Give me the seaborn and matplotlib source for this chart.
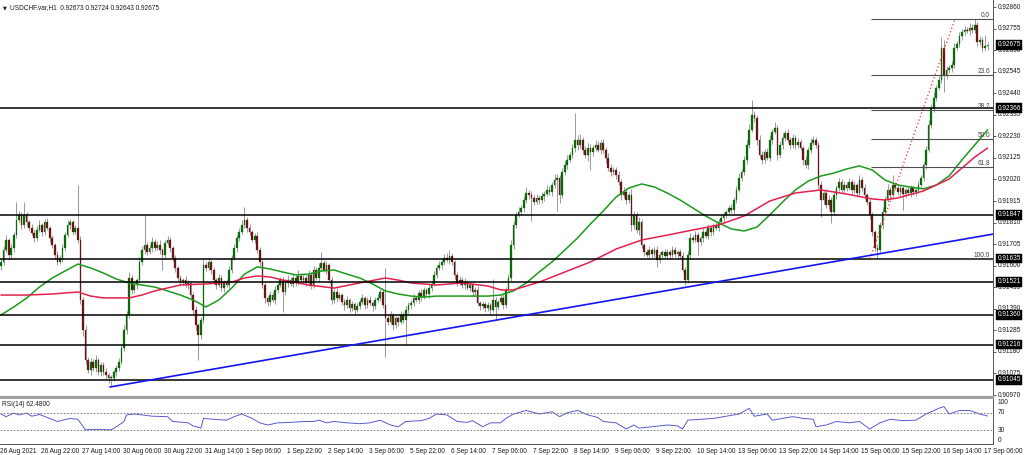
import matplotlib
matplotlib.use("Agg")
import matplotlib.pyplot as plt
import matplotlib.transforms as mtrans
import numpy as np
import pandas as pd
import seaborn as sns

# ---------------- data (prices in points of 0.00001 above 0.90000) ----------------
BASE = 0.90000
PT = 0.00001

first_open = 1600
closes = [
    1618, 1676, 1725, 1652, 1686, 1749, 1822, 1847, 1798, 1847,
    1813, 1784, 1759, 1735, 1774, 1798, 1764, 1813, 1784, 1735,
    1701, 1652, 1618, 1637, 1686, 1749, 1798, 1813, 1764, 1784,
    1725, 1433, 1287, 1141, 1092, 1131, 1102, 1141, 1082, 1116,
    1082, 1067, 1053, 1053, 1082, 1102, 1131, 1199, 1287, 1360,
    1540, 1482, 1506, 1530, 1618, 1676, 1701, 1667, 1686, 1715,
    1686, 1701, 1676, 1652, 1710, 1725, 1686, 1637, 1589, 1540,
    1521, 1530, 1506, 1516, 1457, 1384, 1311, 1262, 1335, 1603,
    1589, 1618, 1579, 1530, 1506, 1540, 1491, 1521, 1506, 1579,
    1637, 1686, 1735, 1764, 1798, 1822, 1784, 1764, 1725, 1744,
    1676, 1618, 1506, 1443, 1423, 1457, 1433, 1482, 1506, 1530,
    1472, 1516, 1530, 1511, 1540, 1521, 1550, 1530, 1540, 1516,
    1555, 1506, 1579, 1540, 1589, 1613, 1579, 1603, 1530, 1433,
    1472, 1443, 1457, 1423, 1408, 1433, 1394, 1413, 1384, 1404,
    1423, 1443, 1408, 1433, 1418, 1404, 1433, 1443, 1472, 1408,
    1345, 1326, 1360, 1311, 1345, 1326, 1360, 1335, 1384, 1408,
    1418, 1443, 1433, 1467, 1447, 1482, 1462, 1491, 1511, 1555,
    1589, 1603, 1618, 1637, 1628, 1647, 1618, 1555, 1516, 1530,
    1506, 1521, 1491, 1506, 1472, 1482, 1418, 1404, 1413, 1394,
    1408, 1384, 1433, 1399, 1423, 1443, 1408, 1482, 1540, 1701,
    1798, 1847, 1861, 1881, 1920, 1954, 1944, 1930, 1910, 1930,
    1920, 1939, 1949, 1969, 1959, 1993, 2017, 2027, 1944, 2056,
    2090, 2115, 2139, 2173, 2212, 2188, 2212, 2163, 2139, 2173,
    2154, 2173, 2188, 2163, 2197, 2163, 2124, 2076, 2056, 2066,
    2042, 2008, 1944, 1959, 1920, 1944, 1798, 1847, 1774, 1813,
    1701, 1667, 1652, 1676, 1657, 1676, 1628, 1652, 1667, 1647,
    1667, 1652, 1676, 1657, 1667, 1647, 1579, 1530, 1652, 1735,
    1725, 1749, 1715, 1735, 1764, 1744, 1784, 1764, 1798, 1784,
    1813, 1832, 1847, 1861, 1881, 1871, 1920, 1969, 2027, 2056,
    2115, 2188, 2261, 2334, 2319, 2212, 2139, 2115, 2154, 2124,
    2212, 2251, 2271, 2139, 2188, 2222, 2246, 2212, 2188, 2222,
    2188, 2202, 2173, 2115, 2090, 2163, 2197, 2212, 2188, 1993,
    1920, 1954, 1896, 1920, 1861, 1944, 1978, 2008, 1969, 1993,
    1978, 2008, 1969, 1993, 1954, 2017, 1978, 1944, 1910, 1847,
    1764, 1686, 1676, 1798, 1861, 1920, 1969, 1944, 1993, 1978,
    1959, 1978, 1949, 1969, 1954, 1978, 1959, 1969, 1993, 2027,
    2090, 2163, 2285, 2368, 2417, 2465, 2504, 2660, 2529, 2553,
    2563, 2577, 2660, 2680, 2719, 2738, 2748, 2743, 2758, 2748,
    2772, 2690, 2699, 2660, 2670, 2675,
]
upper_wick = [
    15, 20, 25, 10, 20, 15, 88, 20, 15, 63,
    15, 10, 20, 15, 20, 25, 10, 15, 20, 10,
    15, 10, 20, 15, 20, 15, 25, 15, 10, 15,
    209, 20, 15, 25, 15, 20, 15, 25, 10, 15,
    15, 20, 10, 15, 10, 15, 20, 15, 25, 20,
    30, 15, 20, 10, 25, 20, 146, 15, 20, 25,
    15, 20, 25, 10, 15, 20, 15, 10, 15, 10,
    15, 10, 20, 15, 10, 15, 20, 10, 15, 30,
    15, 20, 10, 15, 10, 20, 15, 10, 15, 20,
    15, 20, 15, 20, 25, 64, 15, 20, 10, 15,
    20, 15, 10, 15, 10, 20, 15, 20, 10, 15,
    15, 20, 25, 15, 20, 15, 30, 15, 20, 15,
    25, 15, 20, 15, 25, 54, 15, 20, 10, 15,
    15, 20, 15, 10, 15, 20, 10, 15, 10, 15,
    15, 20, 10, 15, 20, 10, 15, 20, 15, 15,
    181, 15, 20, 10, 15, 10, 20, 15, 20, 15,
    15, 20, 10, 15, 20, 15, 10, 20, 15, 20,
    15, 20, 15, 20, 25, 29, 15, 10, 15, 20,
    15, 20, 10, 15, 10, 15, 20, 10, 15, 10,
    15, 10, 100, 15, 10, 15, 20, 15, 20, 25,
    20, 15, 25, 15, 20, 30, 15, 20, 15, 20,
    15, 20, 15, 25, 20, 15, 30, 20, 15, 20,
    20, 25, 15, 20, 132, 25, 30, 15, 20, 25,
    20, 15, 25, 20, 15, 20, 15, 25, 20, 15,
    15, 20, 15, 25, 20, 15, 30, 20, 15, 25,
    15, 10, 15, 20, 10, 15, 20, 15, 10, 15,
    15, 10, 20, 15, 10, 15, 20, 15, 20, 25,
    15, 20, 15, 10, 20, 15, 20, 15, 10, 15,
    15, 20, 15, 10, 15, 20, 15, 20, 25, 15,
    20, 25, 30, 73, 20, 15, 25, 20, 15, 20,
    25, 15, 30, 15, 20, 25, 15, 20, 15, 20,
    15, 20, 15, 10, 20, 15, 25, 20, 15, 15,
    20, 15, 20, 25, 15, 20, 15, 20, 15, 20,
    15, 20, 15, 20, 10, 25, 15, 20, 10, 15,
    15, 10, 20, 15, 25, 20, 30, 15, 49, 15,
    20, 15, 10, 15, 20, 15, 10, 15, 20, 15,
    15, 20, 25, 20, 30, 15, 20, 54, 39, 20,
    15, 20, 25, 15, 20, 15, 20, 15, 25, 20,
    30, 15, 20, 15, 54, 15,
]
lower_wick = [
    20, 15, 10, 25, 15, 20, 15, 10, 20, 15,
    20, 15, 10, 20, 15, 10, 20, 15, 10, 20,
    15, 20, 15, 10, 20, 15, 10, 20, 15, 10,
    15, 20, 30, 20, 15, 25, 15, 20, 15, 20,
    15, 20, 25, 39, 15, 20, 15, 10, 15, 20,
    15, 20, 15, 20, 10, 15, 20, 15, 10, 20,
    15, 10, 20, 73, 15, 10, 20, 15, 20, 15,
    20, 15, 10, 20, 15, 20, 25, 121, 20, 15,
    15, 10, 20, 15, 20, 10, 15, 20, 10, 15,
    15, 10, 20, 15, 10, 15, 20, 15, 10, 15,
    15, 20, 15, 25, 20, 15, 10, 20, 15, 10,
    98, 15, 20, 10, 15, 20, 15, 10, 20, 15,
    15, 20, 15, 10, 20, 15, 10, 20, 15, 20,
    15, 20, 10, 15, 25, 15, 20, 15, 20, 10,
    15, 10, 20, 15, 10, 25, 15, 10, 15, 15,
    190, 15, 10, 25, 15, 20, 10, 15, 121, 15,
    20, 15, 10, 15, 20, 10, 15, 20, 15, 10,
    15, 10, 20, 15, 10, 20, 15, 20, 15, 10,
    15, 20, 10, 15, 20, 15, 10, 20, 15, 20,
    15, 20, 10, 64, 15, 10, 20, 15, 10, 15,
    20, 15, 10, 15, 20, 15, 20, 110, 15, 10,
    20, 15, 25, 10, 15, 20, 15, 150, 40, 15,
    15, 20, 10, 15, 20, 25, 15, 20, 15, 30,
    90, 20, 15, 10, 20, 15, 25, 15, 20, 15,
    20, 15, 25, 15, 20, 15, 30, 20, 15, 25,
    15, 20, 10, 15, 20, 15, 35, 15, 20, 10,
    15, 20, 10, 15, 20, 15, 10, 24, 15, 20,
    15, 10, 63, 15, 20, 10, 15, 20, 15, 10,
    15, 10, 20, 15, 10, 15, 20, 15, 10, 15,
    15, 20, 15, 10, 20, 25, 15, 20, 15, 10,
    15, 20, 10, 25, 15, 20, 15, 10, 20, 15,
    20, 15, 10, 25, 15, 20, 15, 10, 15, 20,
    83, 20, 15, 20, 53, 15, 20, 15, 10, 20,
    15, 10, 20, 15, 20, 10, 15, 20, 15, 20,
    20, 15, 41, 15, 20, 15, 10, 20, 15, 10,
    15, 20, 78, 15, 10, 20, 15, 20, 15, 10,
    15, 20, 10, 15, 20, 15, 10, 15, 83, 20,
    15, 20, 15, 10, 15, 20, 15, 10, 20, 15,
    15, 20, 15, 20, 15, 20,
]

# moving averages (sampled along the bars)
green_idx = list(range(0, 386, 5))
green_ma = [
    1360, 1399, 1442, 1496, 1540, 1574, 1608, 1589, 1564, 1535,
    1516, 1506, 1496, 1477, 1457, 1433, 1399, 1433, 1491, 1559,
    1594, 1584, 1569, 1555, 1559, 1574, 1579, 1559, 1540, 1511,
    1477, 1462, 1452, 1447, 1452, 1452, 1452, 1452, 1452, 1457,
    1477, 1516, 1569, 1618, 1676, 1735, 1803, 1866, 1934, 1978,
    1998, 1983, 1954, 1920, 1881, 1842, 1808, 1779, 1769, 1788,
    1847, 1910, 1969, 2012, 2037, 2051, 2071, 2086, 2066, 2017,
    1993, 1983, 1974, 1993, 2037, 2115, 2188, 2261,
]
red_idx = [0, 10, 20, 30, 35, 40, 50, 55, 60, 70, 80, 90, 95, 100, 105, 110,
           120, 130, 140, 150, 155, 160, 170, 180, 190, 195, 200, 210, 220,
           230, 240, 250, 260, 270, 280, 290, 300, 310, 320, 330, 340, 345,
           350, 360, 370, 380, 385]
red_ma = [1457, 1457, 1462, 1472, 1452, 1443, 1443, 1457, 1477, 1506, 1511,
          1520, 1540, 1550, 1545, 1530, 1506, 1491, 1516, 1540, 1530, 1516,
          1506, 1516, 1501, 1482, 1482, 1520, 1569, 1618, 1681, 1725, 1749,
          1774, 1798, 1842, 1915, 1954, 1969, 1949, 1925, 1920, 1930, 1964,
          2022, 2129, 2173]

# RSI(14)
rsi_idx = [0, 2, 5, 7, 10, 12, 15, 19, 22, 24, 27, 30, 31, 33, 35, 39, 43, 45, 48, 49,
           52, 55, 59, 65, 67, 73, 75, 78, 79, 83, 88, 91, 94, 98, 101, 104, 108, 113,
           118, 122, 124, 127, 130, 135, 140, 144, 148, 152, 155, 158, 164, 167, 170,
           174, 178, 182, 184, 188, 191, 195, 197, 200, 205, 210, 215, 218, 221, 225,
           229, 233, 235, 240, 244, 247, 249, 254, 260, 264, 266, 268, 273, 278, 283,
           288, 292, 294, 299, 301, 305, 309, 313, 317, 318, 322, 326, 331, 335, 339,
           343, 347, 352, 357, 361, 366, 368, 370, 374, 378, 382, 385]
rsi_vals = [67, 61, 69, 65, 69, 62, 66, 57, 50, 53, 57, 55, 47, 31, 32, 32, 31, 38, 50, 65,
            67, 65, 62, 61, 50, 47, 40, 35, 57, 55, 53, 61, 67, 57, 47, 42, 47, 48, 50, 50,
            53, 47, 50, 47, 45, 47, 53, 42, 38, 50, 52, 57, 67, 65, 50, 48, 52, 38, 47, 47,
            57, 67, 75, 67, 72, 61, 70, 75, 65, 59, 50, 47, 33, 42, 35, 38, 42, 40, 33, 53,
            55, 57, 62, 67, 80, 62, 67, 53, 57, 61, 57, 55, 38, 42, 50, 47, 50, 33, 47, 55,
            52, 53, 67, 80, 84, 67, 75, 75, 67, 62.48]
rsi_levels = [70, 30]
rsi_tick_labels = ["100", "70", "30", "0"]

# drawn objects
sr_levels = [0.92366, 0.91847, 0.91635, 0.91521, 0.91360, 0.91216, 0.91045]
current_price = 0.92675
fib_high, fib_low = 0.92802, 0.91635
fib_ratios = [0.0, 0.236, 0.382, 0.5, 0.618, 1.0]
fib_names = ["0.0", "23.6", "38.2", "50.0", "61.8", "100.0"]
fib_start_bar = 339.5
fib_diag_bars = [339.1, 372.3]
trend_bars = [42.5, 387.2]
trend_prices = [0.91009, 0.91754]

price_tick_labels = ["0.92860", "0.92755", "0.92650", "0.92545", "0.92440", "0.92335",
                     "0.92230", "0.92125", "0.92020", "0.91915", "0.91810", "0.91705",
                     "0.91600", "0.91495", "0.91390", "0.91285", "0.91180", "0.91075",
                     "0.90970"]
time_labels = ["26 Aug 2021", "26 Aug 22:00", "27 Aug 14:00", "30 Aug 06:00",
               "30 Aug 22:00", "31 Aug 14:00", "1 Sep 06:00", "1 Sep 22:00",
               "2 Sep 14:00", "3 Sep 06:00", "5 Sep 22:00", "6 Sep 14:00",
               "7 Sep 06:00", "7 Sep 22:00", "8 Sep 14:00", "9 Sep 06:00",
               "9 Sep 22:00", "10 Sep 14:00", "13 Sep 06:00", "13 Sep 22:00",
               "14 Sep 14:00", "15 Sep 06:00", "15 Sep 22:00", "16 Sep 14:00",
               "17 Sep 06:00"]
bars_per_label = 16
title_text = "USDCHF.var,H1  0.92673 0.92724 0.92643 0.92675"
rsi_title = "RSI(14) 62.4800"

# ---------------- build frame ----------------
c = np.array(closes, dtype=float)
o = np.array([first_open] + closes[:-1], dtype=float)
hi = np.maximum(o, c) + np.array(upper_wick)
lo = np.minimum(o, c) - np.array(lower_wick)
df = pd.DataFrame({"bar": np.arange(len(c)),
                   "open": BASE + o * PT, "close": BASE + c * PT,
                   "high": BASE + hi * PT, "low": BASE + lo * PT})
df["up"] = df["close"] >= df["open"]

sns.set_style("white")
plt.rcParams["font.family"] = ["Liberation Sans", "DejaVu Sans"]
FS = 4.7
TXT = "#1a1a1a"

W, H = 1024, 455
fig = plt.figure(figsize=(W / 100, H / 100), dpi=100)
fig.patch.set_facecolor("white")
PLOT_R = 993
ax = fig.add_axes([0, (H - 397) / H, PLOT_R / W, 397 / H])
axr = fig.add_axes([0, (H - 443.5) / H, PLOT_R / W, (443.5 - 398) / H])

XMIN, XMAX = -0.39, 387.12
ax.set_xlim(XMIN, XMAX)
axr.set_xlim(XMIN, XMAX)
ax.set_ylim(0.909604, 0.928941)
axr.set_ylim(0, 103.4)

# ---- candles ----
wick_c = "#9d9d9d"
ax.vlines(df["bar"], df["low"], df["high"], color=wick_c, lw=0.75, zorder=2)
body_h = (df["close"] - df["open"]).to_numpy()
body_h = np.where(np.abs(body_h) < 0.000025, np.where(body_h >= 0, 0.000025, -0.000025), body_h)
colors = np.where(df["up"], "#0a6a0a", "#661616")
ax.bar(df["bar"], body_h, bottom=df["open"], width=0.66, color=colors,
       edgecolor=colors, linewidth=0.2, zorder=3)

# ---- moving averages ----
sns.lineplot(x=green_idx, y=[BASE + v * PT for v in green_ma], ax=ax,
             color="#1c9a1c", lw=1.1, zorder=4)
sns.lineplot(x=red_idx, y=[BASE + v * PT for v in red_ma], ax=ax,
             color="#e3214f", lw=1.1, zorder=4)

# ---- horizontal support/resistance ----
for lev in sr_levels:
    ax.axhline(lev, color="black", lw=1.1, zorder=5)

# ---- fibonacci ----
rng = fib_high - fib_low
for r, name in zip(fib_ratios, fib_names):
    lev = fib_high - r * rng
    ax.hlines(lev, fib_start_bar, XMAX, color="#505050", lw=0.8, zorder=5)
    ax.text((PLOT_R - 3) / PLOT_R, lev, name, transform=ax.get_yaxis_transform(),
            fontsize=FS, color="#404040", ha="right", va="bottom", zorder=6)
ax.plot(fib_diag_bars, [fib_low, fib_high], color="#ff2a2a", lw=0.9,
        ls=(0, (1, 2)), zorder=5)

# ---- trend line ----
ax.plot(trend_bars, trend_prices, color="#1414f0", lw=1.2, zorder=5)

# ---- main axis styling ----
for s in ["left", "top"]:
    ax.spines[s].set_visible(False)
ax.spines["right"].set_color("#555555")
ax.spines["right"].set_linewidth(0.7)
ax.spines["bottom"].set_color("#a0a0a0")
ax.spines["bottom"].set_linewidth(1.6)
ax.set_xticks([])
ax.yaxis.tick_right()
ticks = [float(t) for t in price_tick_labels]
ax.set_yticks(ticks)
ax.set_yticklabels([])
ax.tick_params(axis="y", which="both", right=True, left=False, length=2.2,
               width=0.6, color="#444444", direction="out")
ytr = ax.get_yaxis_transform()
for t, lab in zip(ticks, price_tick_labels):
    ax.text(998 / PLOT_R, t, lab, transform=ytr, fontsize=FS, color=TXT,
            ha="left", va="center", clip_on=False)
for lev in sr_levels + [current_price]:
    ax.text(997.3 / PLOT_R, lev, f"{lev:.5f}", transform=ytr, fontsize=FS,
            color="white", ha="left", va="center", clip_on=False, zorder=10,
            bbox=dict(boxstyle="square,pad=0.22", fc="black", ec="black", lw=0.3))
ax.set_xlabel("")
ax.set_ylabel("")

# ---- RSI panel ----
sns.lineplot(x=rsi_idx, y=rsi_vals, ax=axr, color="#5a5ad0", lw=0.7)
for lv in rsi_levels:
    axr.axhline(lv, color="#6a6a6a", lw=0.6, ls=(0, (2, 2)))
axr.spines["left"].set_visible(False)
axr.spines["top"].set_color("#a0a0a0")
axr.spines["top"].set_linewidth(1.4)
for s in ["right", "bottom"]:
    axr.spines[s].set_color("#555555")
    axr.spines[s].set_linewidth(0.7)
axr.set_yticks([])
rtr = axr.get_yaxis_transform()
for lab in rsi_tick_labels:
    v = float(lab)
    va = "center"
    if v >= 100:
        va = "top"
    elif v <= 0:
        va = "bottom"
    axr.text(998 / PLOT_R, v, lab, transform=rtr, fontsize=FS, color=TXT,
             ha="left", va=va, clip_on=False)
axr.text(2 / PLOT_R, 0.86, rsi_title, transform=axr.transAxes, fontsize=FS,
         color=TXT, ha="left", va="center")
axr.set_xticks([k * bars_per_label for k in range(len(time_labels))])
axr.set_xticklabels(time_labels, fontsize=FS, color=TXT, ha="left")
axr.tick_params(axis="x", direction="inout", length=3, width=0.6,
                color="#444444", pad=1.5)
off = mtrans.ScaledTranslation(-1.0 / 100, 0, fig.dpi_scale_trans)
for lbl in axr.get_xticklabels():
    lbl.set_transform(lbl.get_transform() + off)
axr.set_xlabel("")
axr.set_ylabel("")

# ---- title ----
fig.text(2.5 / W, 1 - 8 / H, "\u25bc", fontsize=3.6, color=TXT, ha="left", va="center",
         family=["DejaVu Sans"])
fig.text(10 / W, 1 - 8 / H, title_text, fontsize=FS, color=TXT, ha="left", va="center")

fig.savefig("out.png", dpi=100, facecolor="white")
